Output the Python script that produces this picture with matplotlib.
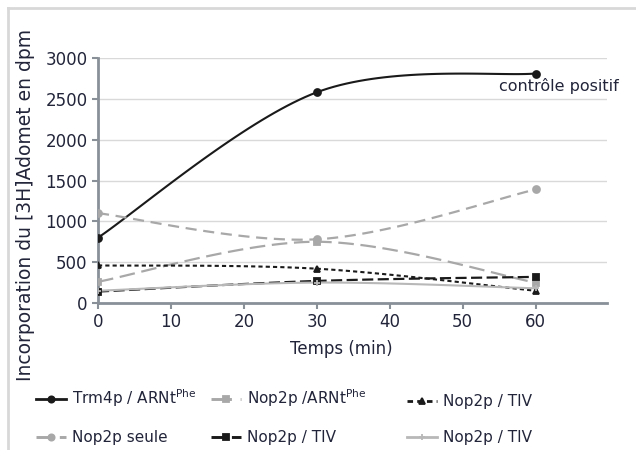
import numpy as np
import matplotlib
matplotlib.use("Agg")
import matplotlib.pyplot as plt
from matplotlib.lines import Line2D

# time points (min)
temps = [0, 30, 60]

# incorporation en dpm
trm4p_arnt = [800, 2580, 2810]
nop2p_arnt = [260, 750, 250]
nop2p_tiv_tri = [460, 420, 150]
nop2p_seule = [1100, 780, 1390]
nop2p_tiv_sq = [140, 270, 320]
nop2p_tiv_plus = [150, 250, 180]

txt = "#22253a"


def smooth(x, y, n=40):
    # excel style smoothed line (bezier through the points)
    x = np.asarray(x, float)
    y = np.asarray(y, float)
    P = np.column_stack([x, y])
    out = []
    for i in range(len(P) - 1):
        p0 = P[i - 1] if i > 0 else P[i]
        p1 = P[i]
        p2 = P[i + 1]
        p3 = P[i + 2] if i + 2 < len(P) else P[i + 1]
        c1 = p1 + (p2 - p0) / 6
        c2 = p2 - (p3 - p1) / 6
        t = np.linspace(0, 1, n)[:, None]
        seg = (1 - t) ** 3 * p1 + 3 * (1 - t) ** 2 * t * c1 + 3 * (1 - t) * t ** 2 * c2 + t ** 3 * p2
        out.append(seg if i == 0 else seg[1:])
    seg = np.vstack(out)
    return seg[:, 0], seg[:, 1]


fig = plt.figure(figsize=(6.36, 4.5), dpi=100)
ax = fig.add_axes([98 / 636, 1 - 303 / 450, (607 - 98) / 636, (303 - 58) / 450])

series = [
    # values, color, dashes, lw, marker, label
    (trm4p_arnt, "#1a1a1a", None, 1.5, "o", "Trm4p / ARNt$^{\\mathrm{Phe}}$"),
    (nop2p_arnt, "#a8a8a8", (7, 3), 1.6, "s", "Nop2p /ARNt$^{\\mathrm{Phe}}$"),
    (nop2p_tiv_tri, "#1a1a1a", (2, 1.5), 1.5, "^", "Nop2p / TIV"),
    (nop2p_seule, "#a8a8a8", (5, 3), 1.6, "o", "Nop2p seule"),
    (nop2p_tiv_sq, "#1a1a1a", (5, 2), 1.6, "s", "Nop2p / TIV"),
    (nop2p_tiv_plus, "#b8b8b8", None, 1.5, "+", "Nop2p / TIV"),
]

handles = []
for vals, col, dash, lw, mk, lab in series:
    sx, sy = smooth(temps, vals)
    ln, = ax.plot(sx, sy, color=col, lw=lw, zorder=3)
    if dash:
        ln.set_dashes(dash)
    ax.plot(temps, vals, linestyle="none", marker=mk, ms=5, color=col,
            mec=col, mew=1.3, zorder=4)
    h = Line2D([0], [0], color=col, lw=lw + 0.5, marker=mk, ms=4.5, mec=col, mew=1.3)
    if dash:
        h.set_dashes(dash)
    handles.append((h, lab))

ax.set_xlim(0, 69.8)
ax.set_ylim(0, 3000)
ax.set_xticks([0, 10, 20, 30, 40, 50, 60])
ax.set_yticks(range(0, 3001, 500))
ax.grid(axis="y", color="#d9d9d9", lw=1)
ax.set_axisbelow(True)
for s in ["top", "right"]:
    ax.spines[s].set_visible(False)
for s in ["left", "bottom"]:
    ax.spines[s].set_color("#8a9098")
    ax.spines[s].set_linewidth(2)
ax.tick_params(axis="both", colors="#8a9098", width=1.5, length=4, labelsize=12,
               labelcolor=txt)

ax.text(55.0, 2660, "contrôle positif", fontsize=11.5, color=txt, va="center")

fig.text(341 / 636, 1 - 349 / 450, "Temps (min)", fontsize=12, color=txt,
         ha="center", va="center")
fig.text(0.04, 0.545, "Incorporation du [3H]Adomet en dpm", fontsize=13.5,
         color=txt, rotation=90, ha="center", va="center")

# legend: one small legend per column, rows on top of each other
col_x = [22 / 636, 197 / 636, 393 / 636]
for c in range(3):
    pair = [handles[c], handles[c + 3]]
    leg = fig.legend([p[0] for p in pair], [p[1] for p in pair],
                     loc="lower left", bbox_to_anchor=(col_x[c], -0.02),
                     frameon=False, fontsize=11, handlelength=2.0,
                     labelspacing=1.4, handletextpad=0.4)
    for t in leg.get_texts():
        t.set_color(txt)

# light frame
fig.add_artist(Line2D([8 / 636, 8 / 636], [0, 1 - 8 / 450], color="#d8d8d8", lw=2,
                      transform=fig.transFigure))
fig.add_artist(Line2D([8 / 636, 1], [1 - 8 / 450, 1 - 8 / 450], color="#d8d8d8", lw=2,
                      transform=fig.transFigure))

fig.savefig("out.png", dpi=100)
